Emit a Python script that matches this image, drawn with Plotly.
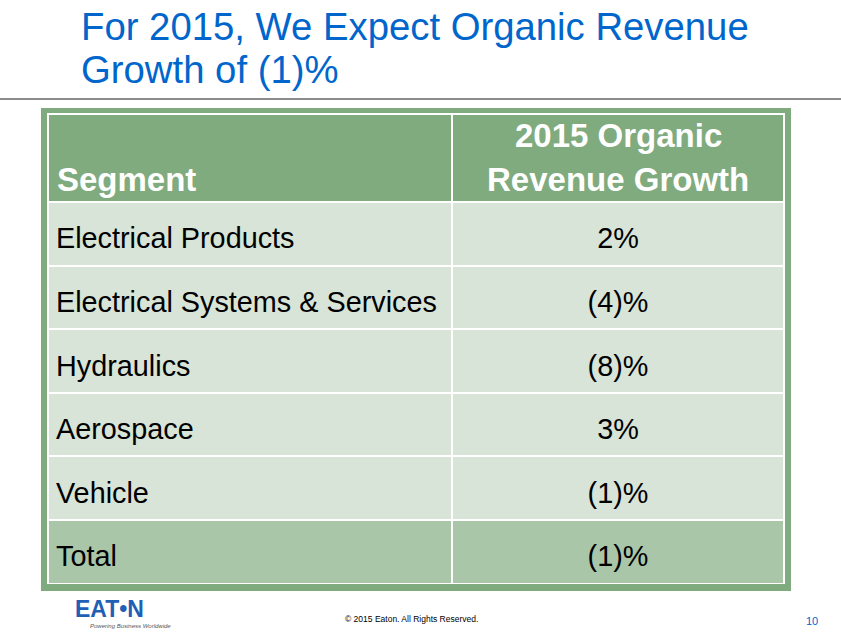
import plotly.graph_objects as go

W, H = 841, 634

# ---- data ----
segments = ["Electrical Products", "Electrical Systems & Services", "Hydraulics",
            "Aerospace", "Vehicle", "Total"]
growth_pct = [2, -4, -8, 3, -1, -1]
header_labels = ["Segment", "2015 Organic", "Revenue Growth"]
title_lines = ["For 2015, We Expect Organic Revenue", "Growth of (1)%"]


def fmt(v):
    return f"({abs(v)})%" if v < 0 else f"{v}%"


growth_labels = [fmt(v) for v in growth_pct]

FONT = "Liberation Sans, Arial, sans-serif"
HEADER_GREEN = "#80AB7F"
ROW_LIGHT = "#D7E4D7"
ROW_TOTAL = "#A9C6A9"
BLUE = "#0066CC"
NB = "\u00a0"
# tiny first line so the table's top-anchored text sits in the middle of each row
LEAD = f"<span style='font-size:1px'>{NB}</span><br>"


def px(x):
    return x / W


def py(y):
    return 1 - y / H


def esc(s):
    return s.replace("&", "&amp;")


row_colors = [ROW_LIGHT] * (len(segments) - 1) + [ROW_TOTAL]
seg_cells = [LEAD + esc(s) for s in segments]
growth_cells = [LEAD + g for g in growth_labels]

fig = go.Figure()
fig.add_trace(go.Table(
    domain=dict(x=[px(48), px(784)], y=[py(584), py(114)]),
    columnwidth=[404, 332],
    header=dict(
        values=["", ""],
        fill_color=HEADER_GREEN,
        line=dict(color="white", width=2),
        align=["left", "center"],
        font=dict(family=FONT, size=33, color="white"),
        height=88,
    ),
    cells=dict(
        values=[seg_cells, growth_cells],
        fill_color=[row_colors, row_colors],
        line=dict(color="white", width=2),
        align=["left", "center"],
        font=dict(family=FONT, size=28.8, color="black"),
        height=63.6,
    ),
))

shapes = [
    # outer green frame
    dict(type="rect", xref="paper", yref="paper", x0=px(41), x1=px(791),
         y0=py(591), y1=py(108), fillcolor=HEADER_GREEN, line=dict(width=0),
         layer="below"),
    # grey rule under the title
    dict(type="line", xref="paper", yref="paper", x0=0, x1=1, y0=py(99), y1=py(99),
         line=dict(color="#8C8C8C", width=2)),
]

annotations = []
for i, t in enumerate(title_lines):
    annotations.append(dict(
        text=t, x=px(79), y=py(27 + 42 * i), xref="paper", yref="paper",
        xanchor="left", yanchor="middle", showarrow=False,
        font=dict(family=FONT, size=38.3, color=BLUE)))

# column headers (bottom-aligned, as in the slide)
hdr_font = dict(family=FONT, size=33, color="white")
annotations += [
    dict(text=f"<b>{header_labels[0]}</b>", x=px(55), y=py(179.5), xref="paper", yref="paper",
         xanchor="left", yanchor="middle", showarrow=False, font=hdr_font),
    dict(text=f"<b>{header_labels[1]}</b>", x=px(618), y=py(135.5), xref="paper", yref="paper",
         xanchor="center", yanchor="middle", showarrow=False, font=hdr_font),
    dict(text=f"<b>{header_labels[2]}</b>", x=px(618), y=py(179.5), xref="paper", yref="paper",
         xanchor="center", yanchor="middle", showarrow=False, font=hdr_font),
]

annotations += [
    dict(text="<b>EAT•N</b>", x=px(73), y=py(609), xref="paper", yref="paper",
         xanchor="left", yanchor="middle", showarrow=False,
         font=dict(family=FONT, size=23, color="#1F5FB5")),
    dict(text="<i>Powering Business Worldwide</i>", x=px(88), y=py(626), xref="paper", yref="paper",
         xanchor="left", yanchor="middle", showarrow=False,
         font=dict(family=FONT, size=6, color="#555555")),
    dict(text="© 2015 Eaton. All Rights Reserved.", x=px(411), y=py(619), xref="paper", yref="paper",
         xanchor="center", yanchor="middle", showarrow=False,
         font=dict(family=FONT, size=8.5, color="black")),
    dict(text="10", x=px(812), y=py(621), xref="paper", yref="paper",
         xanchor="center", yanchor="middle", showarrow=False,
         font=dict(family=FONT, size=11, color=BLUE)),
]

fig.update_layout(
    width=W, height=H,
    margin=dict(l=0, r=0, t=0, b=0),
    paper_bgcolor="white", plot_bgcolor="white",
    shapes=shapes, annotations=annotations,
    showlegend=False,
)

fig.write_html("out.html", config={"displayModeBar": False},
               post_script="document.body.style.margin='0px';document.body.style.overflow='hidden';")
